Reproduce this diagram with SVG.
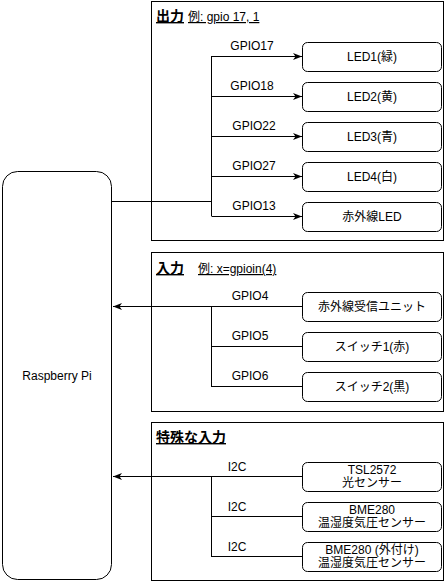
<svg xmlns="http://www.w3.org/2000/svg" width="448" height="584" viewBox="0 0 448 584">
<defs>
<style>
text{font-family:"Liberation Sans","Noto Sans CJK JP",sans-serif;font-size:12px;fill:#000}
.t{font-size:14px;font-weight:bold;text-decoration:underline}
.u{text-decoration:underline}
.m{text-anchor:middle}
.box{fill:#fff;stroke:#000;stroke-width:1}
.panel{fill:#fff;stroke:#000;stroke-width:1}
.ln{fill:none;stroke:#000;stroke-width:1}
</style>
<marker id="arr" markerWidth="10" markerHeight="8" refX="9" refY="4" orient="auto" markerUnits="userSpaceOnUse">
<path d="M0,0.5 L9,4 L0,7.5 L2.5,4 Z" fill="#000"/>
</marker>
</defs>
<rect width="448" height="584" fill="#fff"/>
<g id="panel-output">
<rect class="panel" x="151.5" y="1.5" width="292" height="239"/>
<text class="t" x="156" y="21">出力</text>
<text class="u" x="188" y="21">例: gpio 17, 1</text>
</g>
<g id="panel-input">
<rect class="panel" x="151.5" y="252.5" width="292" height="159"/>
<text class="t" x="156" y="273">入力</text>
<text class="u" x="198" y="273">例: x=gpioin(4)</text>
</g>
<g id="panel-special">
<rect class="panel" x="151.5" y="422.5" width="292" height="158"/>
<text class="t" x="156" y="442">特殊な入力</text>
</g>
<g id="rpi">
<rect class="box" x="2.5" y="171.5" width="109" height="408" rx="15"/>
<text class="m" x="57" y="380">Raspberry Pi</text>
</g>
<g id="connectors">
<path class="ln" d="M112,201.5 H212"/>
<path class="ln" d="M211.5,56 V216"/>
<path class="ln" d="M211.5,56.5 H302" marker-end="url(#arr)"/>
<path class="ln" d="M211.5,96.5 H302" marker-end="url(#arr)"/>
<path class="ln" d="M211.5,136.5 H302" marker-end="url(#arr)"/>
<path class="ln" d="M211.5,176.5 H302" marker-end="url(#arr)"/>
<path class="ln" d="M211.5,216.5 H302" marker-end="url(#arr)"/>
<path class="ln" d="M302,306.5 H113" marker-end="url(#arr)"/>
<path class="ln" d="M211.5,306 V387"/>
<path class="ln" d="M211.5,346.5 H302"/>
<path class="ln" d="M211.5,386.5 H302"/>
<path class="ln" d="M302,476.5 H113" marker-end="url(#arr)"/>
<path class="ln" d="M211.5,476 V557"/>
<path class="ln" d="M211.5,516.5 H302"/>
<path class="ln" d="M211.5,556.5 H302"/>
<text class="m" x="252" y="50">GPIO17</text>
<text class="m" x="252" y="90">GPIO18</text>
<text class="m" x="254" y="130">GPIO22</text>
<text class="m" x="254" y="170">GPIO27</text>
<text class="m" x="254" y="210">GPIO13</text>
<text class="m" x="250" y="300">GPIO4</text>
<text class="m" x="250" y="340">GPIO5</text>
<text class="m" x="250" y="380">GPIO6</text>
<text class="m" x="237" y="471">I2C</text>
<text class="m" x="237" y="511">I2C</text>
<text class="m" x="237" y="551">I2C</text>
</g>
<g id="led1"><rect class="box" x="302.5" y="42.5" width="139" height="29" rx="5"/><text class="m" x="372" y="61">LED1(緑)</text></g>
<g id="led2"><rect class="box" x="302.5" y="82.5" width="139" height="29" rx="5"/><text class="m" x="372" y="101">LED2(黄)</text></g>
<g id="led3"><rect class="box" x="302.5" y="122.5" width="139" height="29" rx="5"/><text class="m" x="372" y="141">LED3(青)</text></g>
<g id="led4"><rect class="box" x="302.5" y="162.5" width="139" height="29" rx="5"/><text class="m" x="372" y="181">LED4(白)</text></g>
<g id="irled"><rect class="box" x="302.5" y="202.5" width="139" height="29" rx="5"/><text class="m" x="372" y="221">赤外線LED</text></g>
<g id="irrecv"><rect class="box" x="302.5" y="292.5" width="139" height="29" rx="5"/><text class="m" x="372" y="311">赤外線受信ユニット</text></g>
<g id="sw1"><rect class="box" x="302.5" y="332.5" width="139" height="29" rx="5"/><text class="m" x="372" y="351">スイッチ1(赤)</text></g>
<g id="sw2"><rect class="box" x="302.5" y="372.5" width="139" height="29" rx="5"/><text class="m" x="372" y="391">スイッチ2(黒)</text></g>
<g id="tsl"><rect class="box" x="302.5" y="462.5" width="139" height="29" rx="5"/><text class="m" x="372" y="474">TSL2572</text><text class="m" x="372" y="487">光センサー</text></g>
<g id="bme1"><rect class="box" x="302.5" y="502.5" width="139" height="29" rx="5"/><text class="m" x="372" y="514">BME280</text><text class="m" x="372" y="527">温湿度気圧センサー</text></g>
<g id="bme2"><rect class="box" x="302.5" y="542.5" width="139" height="29" rx="5"/><text class="m" x="372" y="554">BME280 (外付け)</text><text class="m" x="372" y="567">温湿度気圧センサー</text></g>
</svg>
